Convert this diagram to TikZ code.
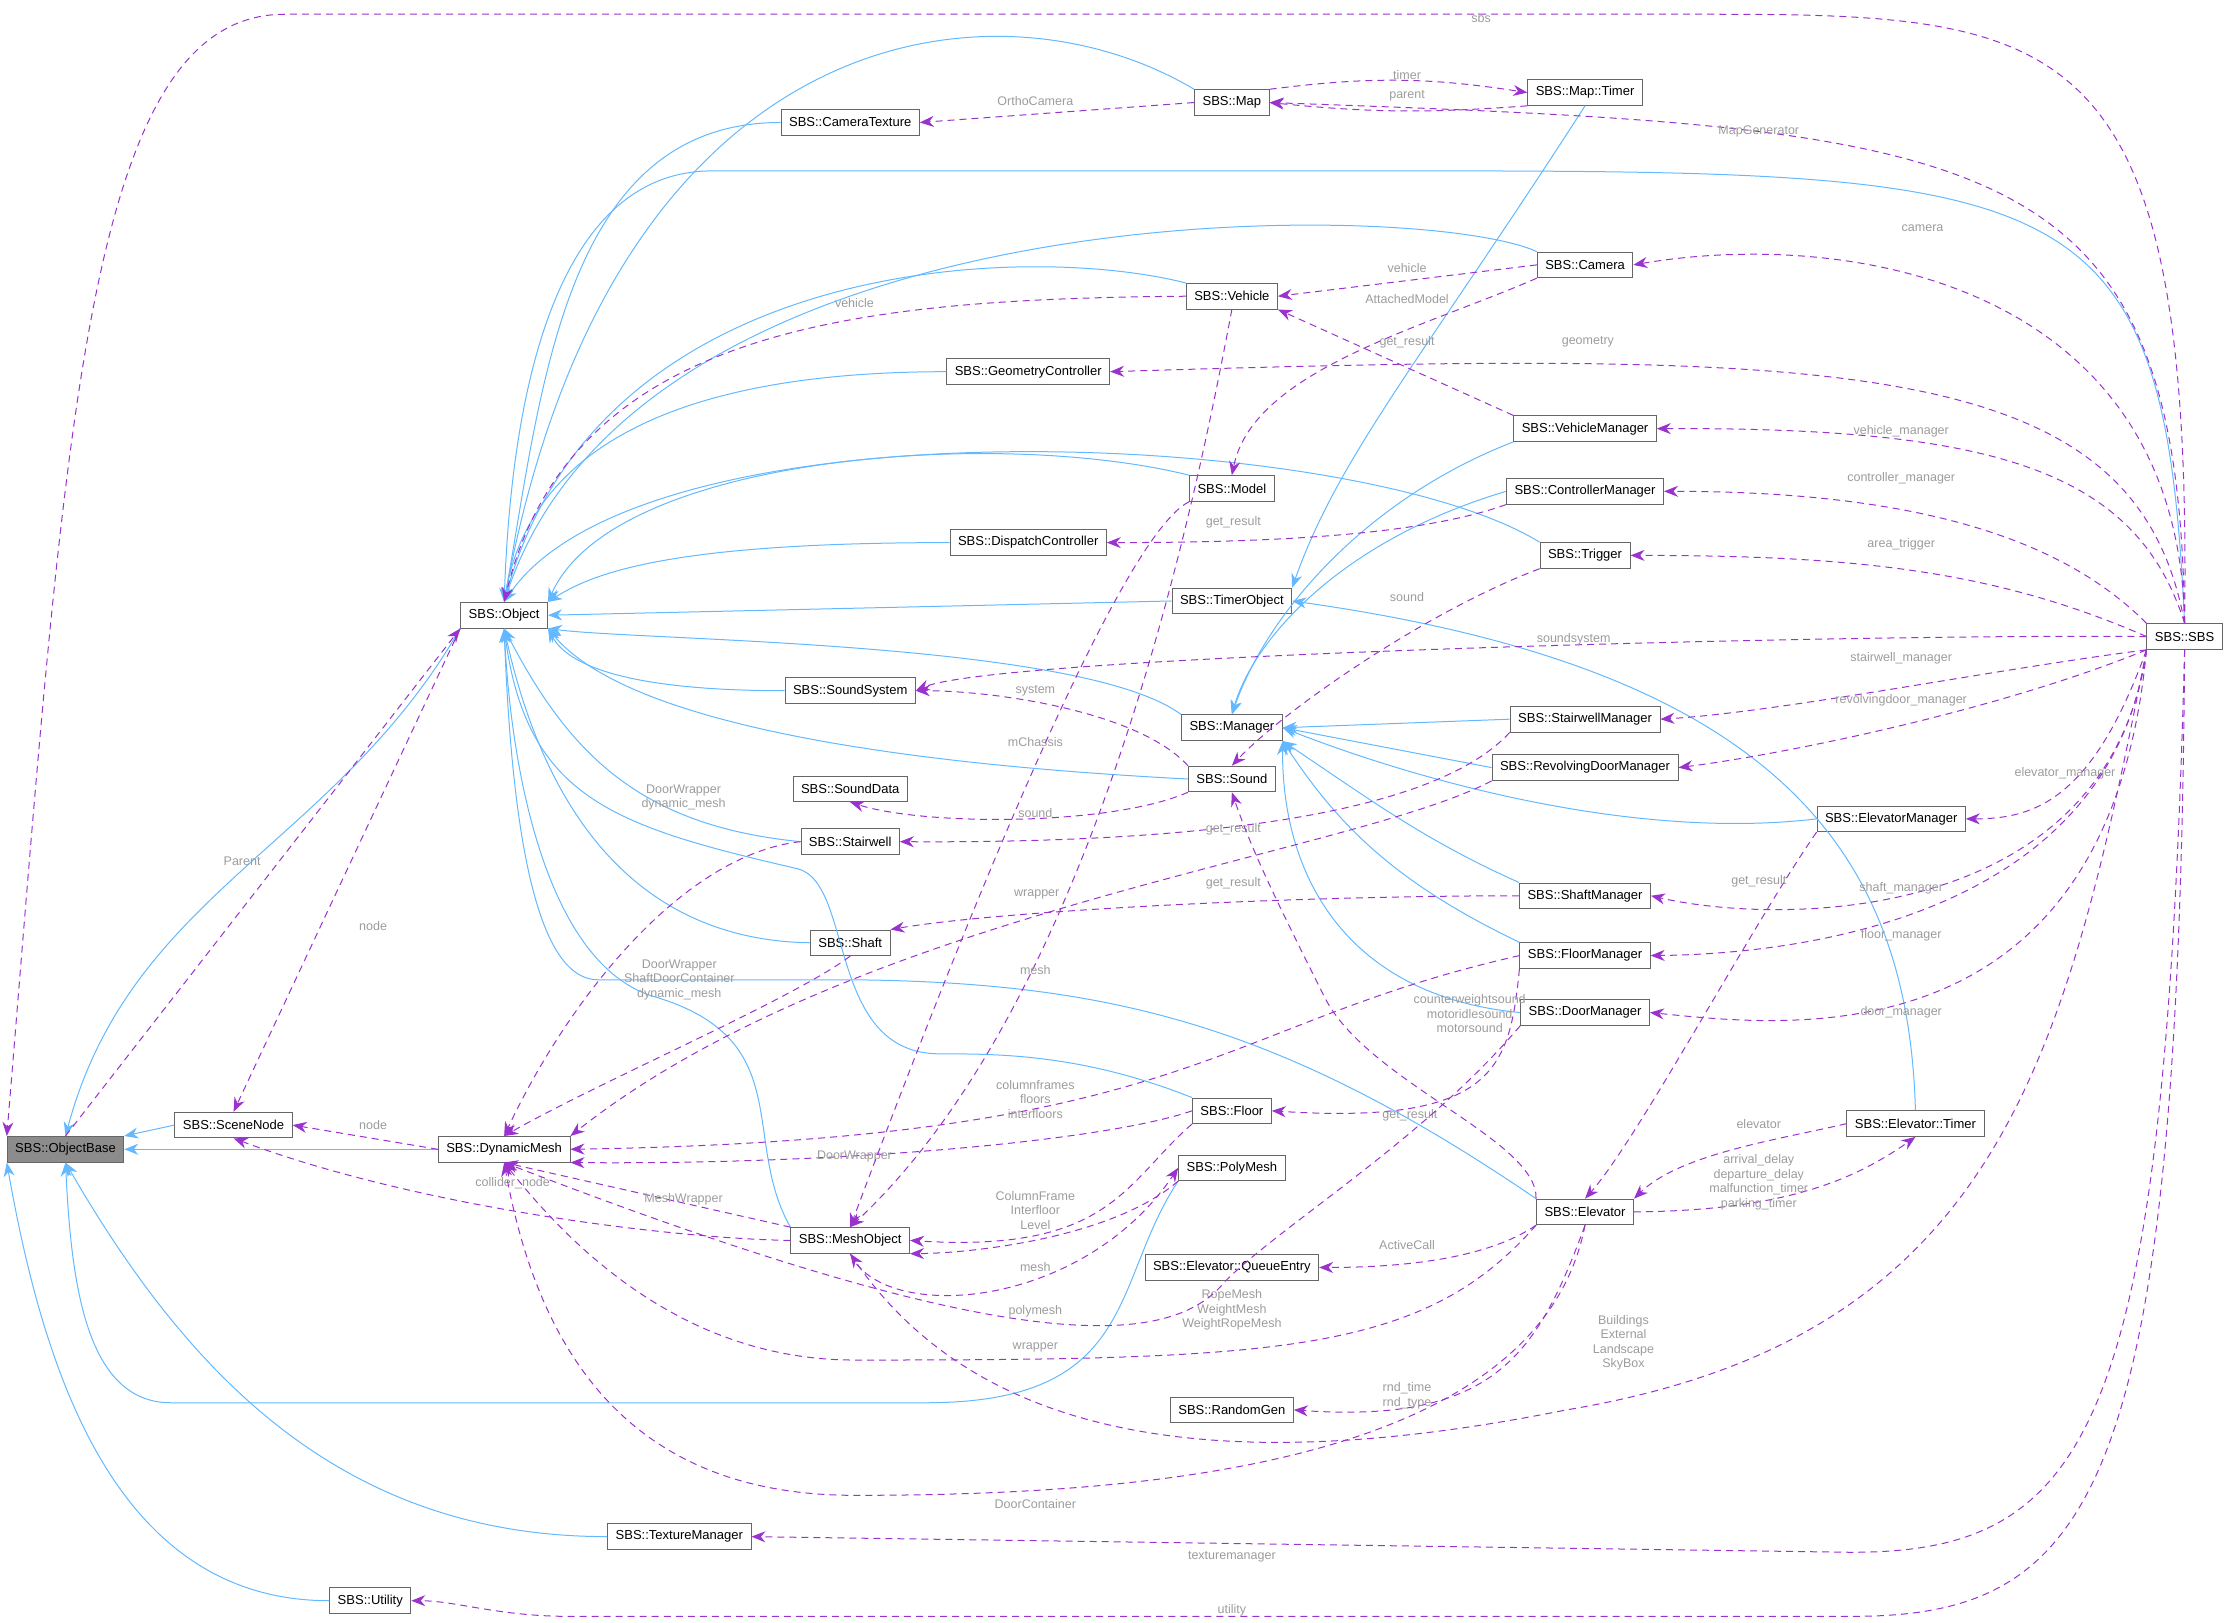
\documentclass[tikz,border=0pt]{standalone}
\usepackage{fontspec}
\setmainfont{Liberation Sans}
\usetikzlibrary{arrows.meta}
\definecolor{inhc}{HTML}{63B8FF}
\definecolor{usec}{HTML}{9A32CD}
\definecolor{labc}{HTML}{9C9C9C}
\begin{document}
\begin{tikzpicture}[x=0.05cm,y=0.05cm,
 cls/.style={draw=black!60,fill=white,line width=0.9pt,inner xsep=8pt,minimum height=0.9cm,font=\fontsize{13}{15}\selectfont},
 inh/.style={draw=inhc,line width=1pt,-{Stealth[length=14pt,width=11pt]}},
 use/.style={draw=usec,line width=1pt,dashed,dash pattern=on 7pt off 5pt,-{Stealth[length=14pt,width=11pt]}},
 lab/.style={text=labc,font=\fontsize{12.5}{14.5}\selectfont,align=center,inner sep=1pt}]
\useasboundingbox (0,0) rectangle (1568,-1139);
% nodes
\node[cls,fill=black!45] (ob) at (46,-807) {SBS::ObjectBase};
\node[cls] (obj) at (354,-432) {SBS::Object};
\node[cls] (sn) at (164,-790) {SBS::SceneNode};
\node[cls] (dm) at (354,-807) {SBS::DynamicMesh};
\node[cls] (tm) at (477,-1079) {SBS::TextureManager};
\node[cls] (ut) at (260,-1124) {SBS::Utility};
\node[cls] (ct) at (597,-86) {SBS::CameraTexture};
\node[cls] (map) at (865,-72) {SBS::Map};
\node[cls] (mt) at (1113,-65) {SBS::Map::Timer};
\node[cls] (cam) at (1113,-186) {SBS::Camera};
\node[cls] (veh) at (865,-208) {SBS::Vehicle};
\node[cls] (gc) at (722,-261) {SBS::GeometryController};
\node[cls] (vm) at (1113,-301) {SBS::VehicleManager};
\node[cls] (mod) at (865,-343) {SBS::Model};
\node[cls] (cm) at (1113,-345) {SBS::ControllerManager};
\node[cls] (dc) at (722,-381) {SBS::DispatchController};
\node[cls] (trg) at (1113,-390) {SBS::Trigger};
\node[cls] (to) at (865,-422) {SBS::TimerObject};
\node[cls] (sbs) at (1534,-447) {SBS::SBS};
\node[cls] (ss) at (597,-485) {SBS::SoundSystem};
\node[cls] (man) at (865,-511) {SBS::Manager};
\node[cls] (swm) at (1113,-505) {SBS::StairwellManager};
\node[cls] (rdm) at (1113,-539) {SBS::RevolvingDoorManager};
\node[cls] (snd) at (865,-547) {SBS::Sound};
\node[cls] (sd) at (597,-554) {SBS::SoundData};
\node[cls] (sw) at (597,-591) {SBS::Stairwell};
\node[cls] (em) at (1328,-575) {SBS::ElevatorManager};
\node[cls] (shm) at (1113,-629) {SBS::ShaftManager};
\node[cls] (sh) at (597,-662) {SBS::Shaft};
\node[cls] (fm) at (1113,-671) {SBS::FloorManager};
\node[cls] (dmg) at (1113,-711) {SBS::DoorManager};
\node[cls] (fl) at (865,-780) {SBS::Floor};
\node[cls] (et) at (1345,-789) {SBS::Elevator::Timer};
\node[cls] (pm) at (865,-820) {SBS::PolyMesh};
\node[cls] (el) at (1113,-851) {SBS::Elevator};
\node[cls] (mo) at (597,-871) {SBS::MeshObject};
\node[cls] (qe) at (865,-890) {SBS::Elevator::QueueEntry};
\node[cls] (rg) at (865,-990) {SBS::RandomGen};
% inheritance to ObjectBase
\draw[inh] (obj.south west) to[out=240,in=75] (ob.north);
\draw[inh] (sn.west) -- (ob.north east);
\draw[inh] (dm.west) -- (ob.east);
\draw[inh] (tm.west) to[out=180,in=-60] (ob.south);
\draw[inh] (ut.west) to[out=180,in=-80] (ob.south west);
\draw[inh] (pm.south west) .. controls (780,-900) and (800,-985) .. (650,-985) -- (120,-985) .. controls (60,-985) and (50,-900) .. (ob.south);
% inheritance to Object
\draw[inh] (ct.west) to[out=180,in=80] (obj.north);
\draw[inh] (map.north west) .. controls (700,20) and (430,-10) .. (obj.north);
\draw[inh] (sbs.north) .. controls (1520,-130) and (1460,-120) .. (1000,-120) -- (500,-120) .. controls (400,-120) and (360,-250) .. (obj.north);
\draw[inh] (cam.north west) .. controls (1000,-140) and (450,-130) .. (obj.north);
\draw[inh] (veh.north west) .. controls (720,-170) and (420,-180) .. (obj.north);
\draw[inh] (gc.west) .. controls (450,-261) and (370,-330) .. (obj.north);
\draw[inh] (trg.north west) .. controls (950,-300) and (450,-280) .. (obj.north);
\draw[inh] (mod.north west) .. controls (700,-300) and (430,-320) .. (obj.north east);
\draw[inh] (dc.west) .. controls (480,-381) and (420,-400) .. (obj.north east);
\draw[inh] (to.west) -- (obj.east);
\draw[inh] (man.north west) .. controls (760,-450) and (450,-450) .. (obj.south east);
\draw[inh] (ss.west) .. controls (450,-485) and (400,-470) .. (obj.south east);
\draw[inh] (snd.west) .. controls (700,-540) and (450,-520) .. (obj.south east);
\draw[inh] (sw.west) .. controls (450,-580) and (400,-530) .. (obj.south);
\draw[inh] (sh.west) .. controls (440,-660) and (380,-560) .. (obj.south);
\draw[inh] (fl.north west) .. controls (760,-740) and (700,-740) .. (660,-740) .. controls (580,-740) and (600,-620) .. (560,-610) .. controls (430,-580) and (370,-560) .. (obj.south);
\draw[inh] (el.north west) .. controls (900,-720) and (780,-690) .. (600,-688) -- (420,-688) .. controls (380,-688) and (360,-600) .. (obj.south);
\draw[inh] (mo.north west) .. controls (520,-800) and (560,-730) .. (460,-700) .. controls (390,-680) and (360,-560) .. (obj.south);
% inheritance to Manager
\draw[inh] (vm.south west) .. controls (960,-350) and (890,-430) .. (man.north);
\draw[inh] (cm.west) .. controls (940,-380) and (880,-450) .. (man.north);
\draw[inh] (swm.west) -- (man.east);
\draw[inh] (rdm.west) -- (man.east);
\draw[inh] (em.west) .. controls (1150,-590) and (1000,-550) .. (man.east);
\draw[inh] (shm.north west) .. controls (1000,-590) and (960,-560) .. (man.south east);
\draw[inh] (fm.north west) .. controls (980,-620) and (940,-580) .. (man.south east);
\draw[inh] (dmg.west) .. controls (950,-700) and (900,-620) .. (man.south east);
% inheritance to TimerObject
\draw[inh] (mt.south) .. controls (1000,-250) and (940,-320) .. (to.north east);
\draw[inh] (et.north) .. controls (1340,-600) and (1250,-470) .. (to.east);
% usage
\draw[use] (sbs.north) .. controls (1540,-20) and (1450,-10) .. (1200,-10) -- (200,-10) .. controls (60,-10) and (46,-300) .. (ob.north west);
\node[lab] at (1040,-13) {sbs};
\draw[use] (ob.north) -- (obj.south west); \node[lab] at (170,-605) {Parent};
\draw[use] (obj.south west) -- (sn.north); \node[lab] at (262,-650) {node};
\draw[use] (dm.west) -- (sn.east); \node[lab] at (262,-790) {node};
\draw[use] (mo.west) .. controls (480,-870) and (300,-850) .. (sn.south); \node[lab] at (360,-831) {collider\_node};
\draw[use] (mo.north west) -- (dm.south); \node[lab] at (480,-842) {MeshWrapper};
\draw[use] (map.west) -- (ct.east); \node[lab] at (727,-71) {OrthoCamera};
\draw[use] (map.north east) to[bend left=8] (mt.west); \node[lab] at (988,-53) {timer};
\draw[use] (mt.south west) to[bend left=5] (map.east); \node[lab] at (988,-67) {parent};
\draw[use] (sbs.north) .. controls (1530,-100) and (1400,-90) .. (map.east); \node[lab] at (1235,-92) {MapGenerator};
\draw[use] (sbs.north) .. controls (1530,-200) and (1300,-160) .. (cam.east); \node[lab] at (1350,-160) {camera};
\draw[use] (cam.west) -- (veh.east); \node[lab] at (988,-188) {vehicle};
\draw[use] (veh.west) .. controls (600,-210) and (400,-230) .. (obj.north); \node[lab] at (600,-213) {vehicle};
\draw[use] (cam.south west) .. controls (1000,-230) and (880,-260) .. (mod.north); \node[lab] at (988,-210) {AttachedModel};
\draw[use] (vm.north west) -- (veh.south east); \node[lab] at (988,-240) {get\_result};
\draw[use] (sbs.north) .. controls (1500,-250) and (1300,-245) .. (gc.east); \node[lab] at (1115,-240) {geometry};
\draw[use] (sbs.north) .. controls (1500,-330) and (1400,-300) .. (vm.east); \node[lab] at (1335,-303) {vehicle\_manager};
\draw[use] (sbs.north west) .. controls (1450,-380) and (1350,-345) .. (cm.east); \node[lab] at (1335,-336) {controller\_manager};
\draw[use] (cm.south west) .. controls (1000,-375) and (900,-381) .. (dc.east); \node[lab] at (866,-367) {get\_result};
\draw[use] (sbs.west) .. controls (1400,-400) and (1300,-390) .. (trg.east); \node[lab] at (1335,-382) {area\_trigger};
\draw[use] (trg.south west) .. controls (1000,-430) and (900,-500) .. (snd.north); \node[lab] at (988,-419) {sound};
\draw[use] (sbs.west) .. controls (1300,-445) and (700,-460) .. (ss.east); \node[lab] at (1105,-449) {soundsystem};
\draw[use] (snd.north west) .. controls (800,-500) and (700,-485) .. (ss.east); \node[lab] at (727,-485) {system};
\draw[use] (sbs.south west) .. controls (1400,-470) and (1250,-500) .. (swm.east); \node[lab] at (1335,-462) {stairwell\_manager};
\draw[use] (sbs.south west) .. controls (1400,-500) and (1250,-530) .. (rdm.east); \node[lab] at (1335,-492) {revolvingdoor\_manager};
\draw[use] (swm.south west) .. controls (1000,-580) and (800,-592) .. (sw.east); \node[lab] at (866,-582) {get\_result};
\draw[use] (snd.south west) .. controls (780,-580) and (650,-580) .. (sd.south); \node[lab] at (727,-571) {sound};
\draw[use] (veh.south) .. controls (840,-350) and (770,-700) .. (mo.north); \node[lab] at (727,-521) {mChassis};
\draw[use] (sw.west) .. controls (480,-600) and (400,-700) .. (dm.north); \node[lab] at (480,-560) {DoorWrapper\\dynamic\_mesh};
\draw[use] (sh.south) .. controls (560,-700) and (420,-760) .. (dm.north); \node[lab] at (477,-688) {DoorWrapper\\ShaftDoorContainer\\dynamic\_mesh};
\draw[use] (rdm.south west) .. controls (950,-600) and (600,-640) .. (dm.north east); \node[lab] at (728,-628) {wrapper};
\draw[use] (shm.west) .. controls (900,-629) and (700,-640) .. (sh.north east); \node[lab] at (866,-620) {get\_result};
\draw[use] (sbs.south west) .. controls (1470,-560) and (1430,-575) .. (em.east); \node[lab] at (1450,-543) {elevator\_manager};
\draw[use] (em.south west) .. controls (1230,-650) and (1150,-800) .. (el.north); \node[lab] at (1235,-619) {get\_result};
\draw[use] (sbs.south west) .. controls (1480,-650) and (1250,-650) .. (shm.east); \node[lab] at (1335,-624) {shaft\_manager};
\draw[use] (sbs.south west) .. controls (1480,-650) and (1250,-670) .. (fm.east); \node[lab] at (1335,-657) {floor\_manager};
\draw[use] (sbs.south west) .. controls (1480,-750) and (1250,-720) .. (dmg.east); \node[lab] at (1335,-711) {door\_manager};
\draw[use] (fm.south west) .. controls (1060,-750) and (1050,-790) .. (fl.east); \node[lab] at (990,-783) {get\_result};
\draw[use] (fm.west) .. controls (850,-720) and (840,-800) .. (dm.east); \node[lab] at (727,-772) {columnframes\\floors\\interfloors};
\draw[use] (fl.west) .. controls (780,-800) and (600,-818) .. (dm.south east); \node[lab] at (600,-812) {DoorWrapper};
\draw[use] (fl.south west) .. controls (790,-830) and (780,-880) .. (mo.east); \node[lab] at (727,-850) {ColumnFrame\\Interfloor\\Level};
\draw[use] (el.north west) .. controls (1080,-800) and (960,-760) .. (930,-700) .. controls (900,-640) and (880,-600) .. (snd.south); \node[lab] at (1032,-712) {counterweightsound\\motoridlesound\\motorsound};
\draw[use] (el.east) .. controls (1250,-850) and (1300,-830) .. (et.south); \node[lab] at (1235,-830) {arrival\_delay\\departure\_delay\\malfunction\_timer\\parking\_timer};
\draw[use] (et.west) .. controls (1250,-800) and (1180,-810) .. (el.north east); \node[lab] at (1235,-789) {elevator};
\draw[use] (el.south west) .. controls (1050,-880) and (1000,-890) .. (qe.east); \node[lab] at (988,-874) {ActiveCall};
\draw[use] (el.south west) .. controls (1000,-950) and (900,-955) .. (600,-955) .. controls (500,-955) and (420,-900) .. (dm.south); \node[lab] at (865,-920) {RopeMesh\\WeightMesh\\WeightRopeMesh};
\draw[use] (el.south) .. controls (1080,-950) and (1050,-1000) .. (rg.east); \node[lab] at (988,-980) {rnd\_time\\rnd\_type};
\draw[use] (el.south) .. controls (1080,-1030) and (800,-1050) .. (600,-1050) .. controls (450,-1050) and (380,-960) .. (dm.south); \node[lab] at (727,-1056) {DoorContainer};
\draw[use] (sbs.south west) .. controls (1450,-750) and (1400,-940) .. (1100,-990) .. controls (900,-1030) and (700,-1030) .. (mo.south); \node[lab] at (1140,-943) {Buildings\\External\\Landscape\\SkyBox};
\draw[use] (pm.south west) .. controls (780,-870) and (680,-880) .. (mo.south east); \node[lab] at (727,-890) {mesh};
\draw[use] (mo.south) .. controls (620,-930) and (760,-920) .. (pm.west); \node[lab] at (727,-921) {polymesh};
\draw[use] (dmg.south west) .. controls (1000,-800) and (900,-860) .. (860,-900) .. controls (820,-950) and (700,-950) .. (dm.south); \node[lab] at (727,-946) {wrapper};
\draw[use] (mod.south west) .. controls (780,-380) and (650,-720) .. (mo.north); \node[lab] at (727,-681) {mesh};
\draw[use] (sbs.south) .. controls (1520,-1000) and (1470,-1090) .. (1300,-1090) -- (tm.east); \node[lab] at (865,-1093) {texturemanager};
\draw[use] (sbs.south) .. controls (1530,-1050) and (1470,-1135) .. (1300,-1135) -- (400,-1135) .. controls (350,-1135) and (320,-1124) .. (ut.east); \node[lab] at (865,-1131) {utility};
\end{tikzpicture}
\end{document}
